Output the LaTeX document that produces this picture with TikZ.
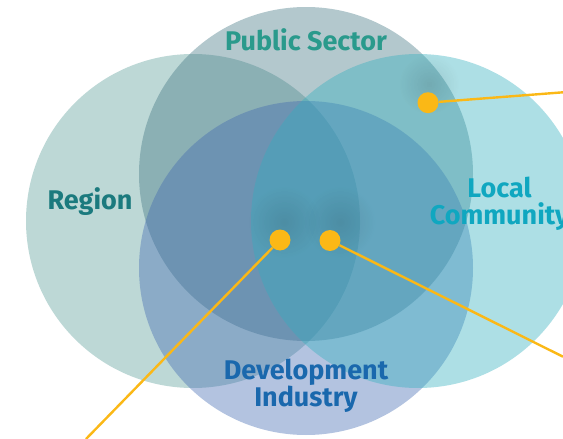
\documentclass[tikz,border=0pt]{standalone}
\usepackage{fontspec}
\setmainfont{Fira Sans}
\usetikzlibrary{fadings}

\definecolor{regionfill}{RGB}{90,157,152}
\definecolor{publicfill}{RGB}{65,117,130}
\definecolor{localfill}{RGB}{50,175,190}
\definecolor{devfill}{RGB}{65,105,177}
\definecolor{regiontext}{RGB}{27,122,126}
\definecolor{publictext}{RGB}{42,154,140}
\definecolor{localtext}{RGB}{16,167,192}
\definecolor{devtext}{RGB}{26,104,173}
\definecolor{hubyellow}{RGB}{251,184,22}

\tikzfading[name=glowfade, inner color=transparent!0, outer color=transparent!100]

\tikzset{
  venn/.style={fill opacity=0.4},
  vennlabel/.style={font=\fontsize{27}{27}\selectfont\bfseries, align=center, anchor=base, inner sep=0pt},
  hubdot/.style={circle, fill=hubyellow, minimum size=21pt, inner sep=0pt},
  link/.style={hubyellow, line width=2.4pt},
  glow/.style={black, fill opacity=0.1, path fading=glowfade}
}

\begin{document}
\begin{tikzpicture}[x=1pt, y=-1pt]
        \useasboundingbox (0,0) rectangle (563,439);
        \clip (0,0) rectangle (563,439);

        %circles
        \fill[venn, regionfill] (193,221) circle (167);
        \fill[venn, publicfill] (306,174) circle (167);
        \fill[venn, devfill]    (306,268) circle (167);
        \fill[venn, localfill]  (418,221) circle (167);

        %glows
        \fill[glow] (284,222) circle (36);
        \fill[glow] (340,222) circle (36);
        \fill[glow] (429,84) circle (30);

        %labels (base = last line)
        \node[vennlabel, text=publictext] (public) at (306,50.7) {Public Sector};
        \node[vennlabel, text=regiontext] (region) at (90,209) {Region};
        \node[vennlabel, text=localtext] (local) at (499.5,224) {Local\\Community};
        \node[vennlabel, text=devtext] (develop) at (306,406.7) {Development\\Industry};

        %dots
        \node[hubdot] (hubleft)  at (280,240) {};
        \node[hubdot] (hubright) at (330,240.5) {};
        \node[hubdot] (hubtop)   at (428,102.7) {};

        %lines
        \coordinate (endleft)  at (86,439);
        \coordinate (endright) at (563,356.7);
        \coordinate (endtop)   at (563,92.3);
        \draw[link] (hubleft) -- (endleft);
        \draw[link] (hubright) -- (endright);
        \draw[link] (hubtop) -- (endtop);
\end{tikzpicture}
\end{document}
